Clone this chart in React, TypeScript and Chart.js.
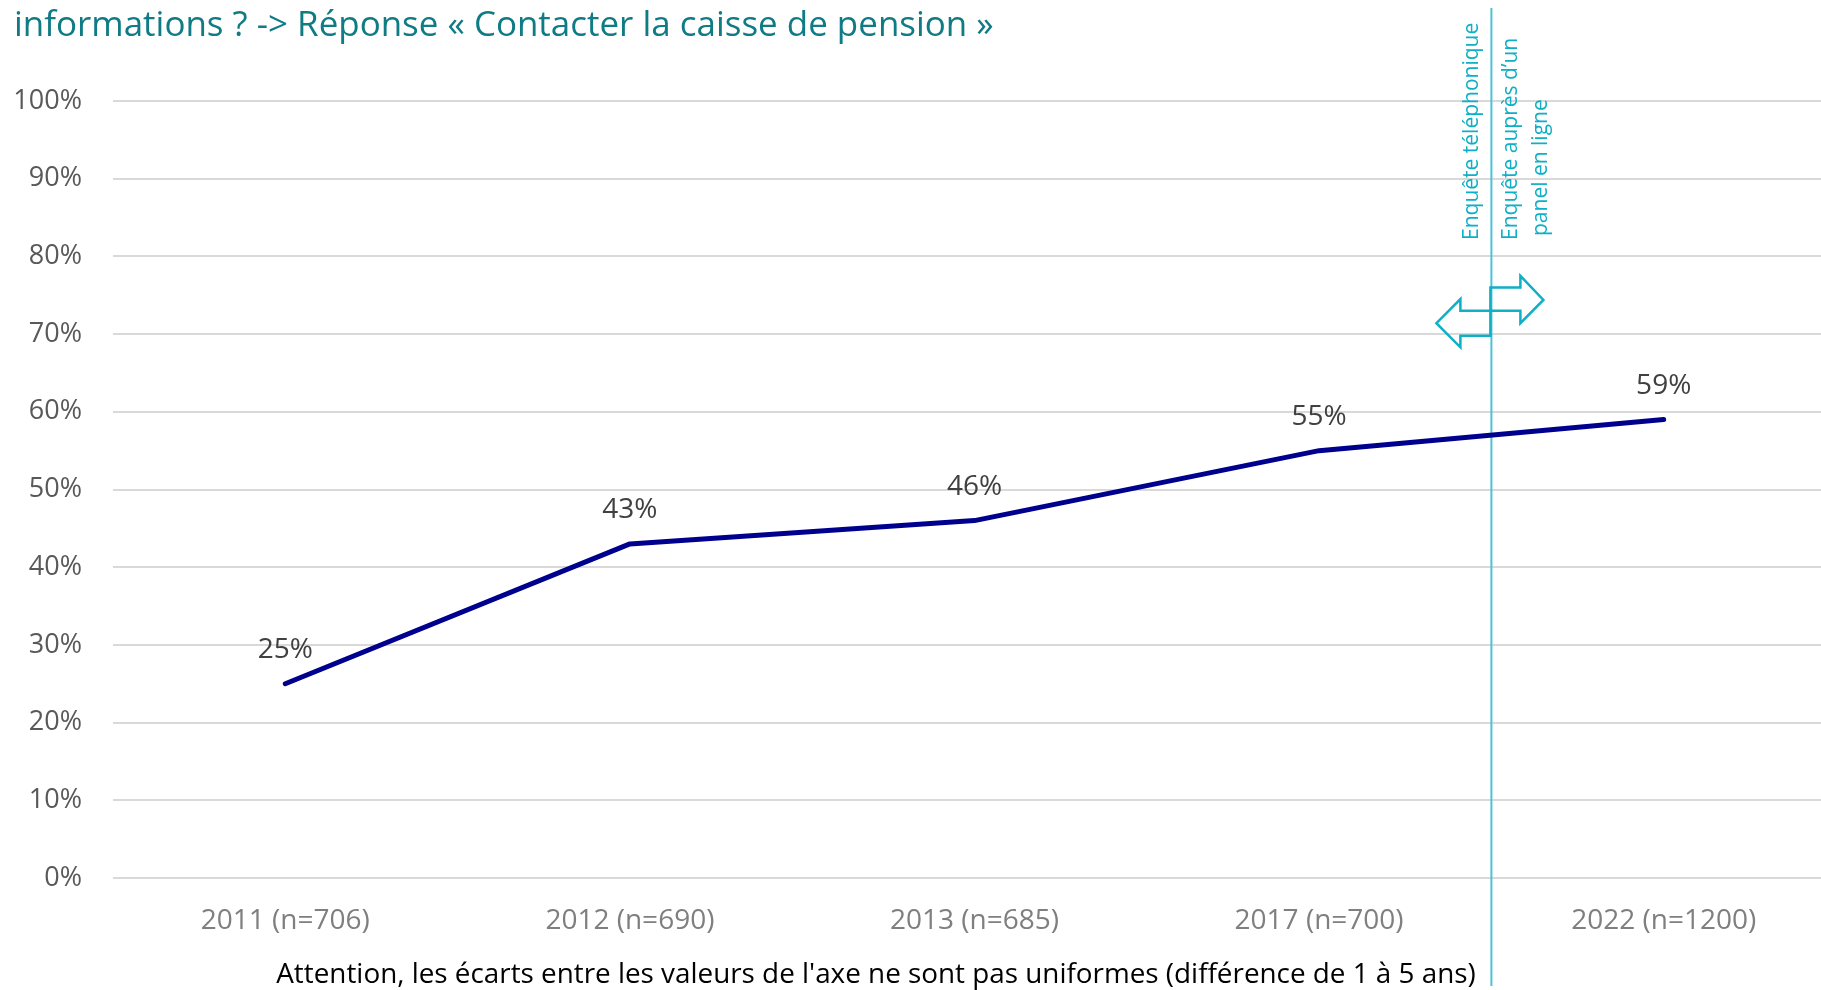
import React, { useEffect, useRef } from 'react';
import { Chart, registerables } from 'chart.js';

Chart.register(...registerables);

// ---- Data ----
const categories: string[] = ['2011 (n=706)', '2012 (n=690)', '2013 (n=685)', '2017 (n=700)', '2022 (n=1200)'];
const values: number[] = [25, 43, 46, 55, 59];
const yMin = 0;
const yMax = 100;
const yStep = 10;
const titleText = 'informations ? -> Réponse « Contacter la caisse de pension »';
const noteText = "Attention, les écarts entre les valeurs de l'axe ne sont pas uniformes (différence de 1 à 5 ans)";
const leftMethodLines: string[] = ['Enquête téléphonique'];
const rightMethodLines: string[] = ['Enquête auprès d’un', 'panel en ligne'];
const methodBreakIndex = 3.5; // between 2017 and 2022

// ---- Styles ----
const FONT = '"Open Sans", "Noto Sans", sans-serif';
const TEAL = '#0F7B84';
const CYAN_LINE = '#4CC2D5';
const CYAN = '#0FAFC6';
const NAVY = '#00008E';

function fitSize(ctx: CanvasRenderingContext2D, text: string, target: number, base: number) {
  ctx.font = `${base}px ${FONT}`;
  const w = ctx.measureText(text).width;
  return (base * target) / w;
}

const overlayPlugin = {
  id: 'overlay',
  beforeDatasetsDraw(chart: any) {
    const ctx: CanvasRenderingContext2D = chart.ctx;
    const x = chart.scales.x.getPixelForValue(methodBreakIndex);
    ctx.save();
    ctx.strokeStyle = CYAN_LINE;
    ctx.lineWidth = 2;
    ctx.beginPath();
    ctx.moveTo(x, 8);
    ctx.lineTo(x, 986);
    ctx.stroke();
    ctx.restore();
  },
  afterDraw(chart: any) {
    const ctx: CanvasRenderingContext2D = chart.ctx;
    const ys = chart.scales.y;
    const sep = chart.scales.x.getPixelForValue(methodBreakIndex) - 1;
    ctx.save();

    // Title
    const tSize = fitSize(ctx, titleText, 980, 32);
    ctx.font = `${tSize}px ${FONT}`;
    ctx.fillStyle = TEAL;
    ctx.textAlign = 'left';
    ctx.textBaseline = 'alphabetic';
    ctx.fillText(titleText, 14, 36);

    // Data labels
    const meta = chart.getDatasetMeta(0);
    ctx.font = `28px ${FONT}`;
    ctx.fillStyle = '#404040';
    ctx.textAlign = 'center';
    ctx.textBaseline = 'middle';
    meta.data.forEach((pt: any, i: number) => {
      ctx.fillText(`${values[i]}%`, pt.x, pt.y - 34);
    });

    // Arrows
    const Y = (v: number) => ys.getPixelForValue(v);
    ctx.strokeStyle = CYAN;
    ctx.lineWidth = 2.5;
    ctx.lineJoin = 'miter';
    // right arrow
    ctx.beginPath();
    ctx.moveTo(sep, Y(76.0));
    ctx.lineTo(sep + 30, Y(76.0));
    ctx.lineTo(sep + 30, Y(77.5));
    ctx.lineTo(sep + 53, Y(74.4));
    ctx.lineTo(sep + 30, Y(71.4));
    ctx.lineTo(sep + 30, Y(73.0));
    ctx.lineTo(sep, Y(73.0));
    ctx.closePath();
    ctx.stroke();
    // left arrow
    ctx.beginPath();
    ctx.moveTo(sep, Y(73.0));
    ctx.lineTo(sep - 30, Y(73.0));
    ctx.lineTo(sep - 30, Y(74.5));
    ctx.lineTo(sep - 54, Y(71.4));
    ctx.lineTo(sep - 30, Y(68.3));
    ctx.lineTo(sep - 30, Y(69.8));
    ctx.lineTo(sep, Y(69.8));
    ctx.closePath();
    ctx.stroke();

    // Rotated method labels
    ctx.fillStyle = CYAN;
    ctx.font = `21px ${FONT}`;
    ctx.textAlign = 'left';
    ctx.textBaseline = 'alphabetic';
    const startY = 240;
    leftMethodLines.forEach((line, i) => {
      ctx.save();
      ctx.translate(sep - 12 - i * 30, startY);
      ctx.rotate(-Math.PI / 2);
      ctx.fillText(line, 0, 0);
      ctx.restore();
    });
    rightMethodLines.forEach((line, i) => {
      ctx.save();
      ctx.translate(sep + 27 + i * 30, startY - i * 4);
      ctx.rotate(-Math.PI / 2);
      ctx.fillText(line, 0, 0);
      ctx.restore();
    });

    // Bottom note
    const nSize = fitSize(ctx, noteText, 1200, 28);
    ctx.font = `${nSize}px ${FONT}`;
    ctx.fillStyle = '#000000';
    ctx.textAlign = 'center';
    ctx.textBaseline = 'alphabetic';
    ctx.fillText(noteText, 876, 983);

    ctx.restore();
  },
};

export default function App() {
  const ref = useRef<HTMLCanvasElement | null>(null);

  useEffect(() => {
    if (!ref.current) return;
    const chart = new Chart(ref.current, {
      type: 'line',
      data: {
        labels: categories,
        datasets: [
          {
            data: values,
            borderColor: NAVY,
            borderWidth: 5,
            borderCapStyle: 'round',
            borderJoinStyle: 'round',
            pointRadius: 0,
            pointHoverRadius: 0,
            tension: 0,
            fill: false,
          },
        ],
      },
      options: {
        responsive: false,
        animation: false,
        devicePixelRatio: 1,
        layout: { padding: { top: 101, left: 0, right: 0, bottom: 0 } },
        plugins: {
          legend: { display: false },
          title: { display: false },
          tooltip: { enabled: false },
        },
        scales: {
          x: {
            offset: true,
            grid: { display: false, drawTicks: false },
            border: { display: false },
            ticks: {
              color: '#7F7F7F',
              font: { family: FONT, size: 28 },
              padding: 26,
              maxRotation: 0,
              autoSkip: false,
            },
            afterFit: (s: any) => {
              s.height = 112;
            },
          },
          y: {
            min: yMin,
            max: yMax,
            grid: { color: '#D9D9D9', lineWidth: 2, drawTicks: false },
            border: { display: false },
            ticks: {
              stepSize: yStep,
              color: '#595959',
              font: { family: FONT, size: 27 },
              padding: 31,
              callback: (v: any) => `${v}%`,
            },
            afterFit: (s: any) => {
              s.width = 113;
            },
          },
        },
      },
      plugins: [overlayPlugin],
    });
    return () => chart.destroy();
  }, []);

  return (
    <div
      style={{
        position: 'fixed',
        left: 0,
        top: 0,
        width: 1821,
        height: 990,
        overflow: 'hidden',
        background: '#ffffff',
      }}
    >
      <canvas ref={ref} width={1836} height={990} style={{ display: 'block' }} />
    </div>
  );
}
